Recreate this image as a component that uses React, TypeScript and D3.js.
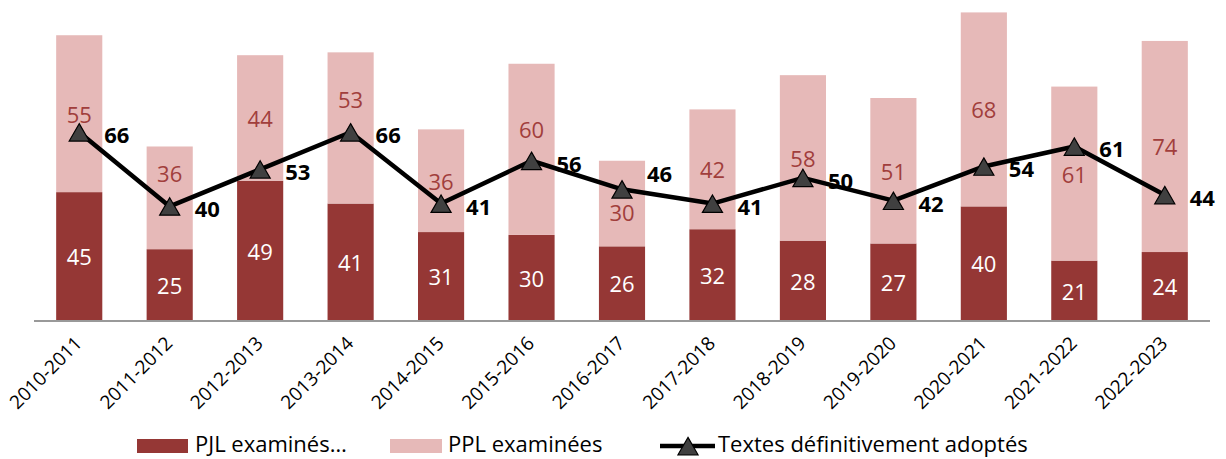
import React from 'react';
import * as d3 from 'd3';

// chart data
const categories = ['2010-2011', '2011-2012', '2012-2013', '2013-2014', '2014-2015', '2015-2016', '2016-2017', '2017-2018', '2018-2019', '2019-2020', '2020-2021', '2021-2022', '2022-2023'];
const pjl = [45, 25, 49, 41, 31, 30, 26, 32, 28, 27, 40, 21, 24];
const ppl = [55, 36, 44, 53, 36, 60, 30, 42, 58, 51, 68, 61, 74];
const adoptes = [66, 40, 53, 66, 41, 56, 46, 41, 50, 42, 54, 61, 44];
const legendLabels = ['PJL examinés…', 'PPL examinées', 'Textes définitivement adoptés'];

const W = 1226;
const H = 459;
const FONT = '"Open Sans", sans-serif';
const DARK = '#953735';
const PINK = '#e6b9b8';

// labels that were moved by hand in the original so they don't sit under the line
const pplNudge: Record<number, number> = { 1: -25, 3: -29, 5: -20, 6: 8 };
const lineNudge: Record<number, number> = { 6: -18 };

function App() {
  const x = d3.scaleBand().domain(categories).range([34, 1210]).paddingInner(0.49).paddingOuter(0.245);
  const y = d3.scaleLinear().domain([0, 112]).range([320.5, 1]);

  const rows = categories.map((c, i) => ({ cat: c, pjl: pjl[i], ppl: ppl[i], adopte: adoptes[i] }));
  const stack = d3.stack<any>().keys(['pjl', 'ppl'])(rows);

  const cx = (c: string) => (x(c) as number) + x.bandwidth() / 2;
  const line = d3.line<any>().x(d => cx(d.cat)).y(d => y(d.adopte));
  const tri = d3.symbol(d3.symbolTriangle, 175)() as string;

  return (
    <svg width={W} height={H} style={{ position: 'absolute', left: 0, top: 0, background: '#fff' }} fontFamily={FONT}>
      {stack.map((layer, li) => (
        <g key={layer.key}>
          {layer.map((seg, i) => (
            <rect key={i} x={x(categories[i])} width={x.bandwidth()} y={y(seg[1])} height={y(seg[0]) - y(seg[1])} fill={li === 0 ? DARK : PINK} />
          ))}
        </g>
      ))}

      {/* axis line */}
      <line x1={34} x2={1210} y1={y(0) + 0.5} y2={y(0) + 0.5} stroke="#999" strokeWidth={2} />

      {/* segment labels */}
      {stack.map((layer, li) =>
        layer.map((seg, i) => (
          <text key={layer.key + i} x={cx(categories[i])} y={(y(seg[0]) + y(seg[1])) / 2 + (li === 1 ? pplNudge[i] || 0 : 0)} textAnchor="middle" dominantBaseline="central" fontSize={22} fill={li === 0 ? '#fff' : '#a13e3c'}>
            {li === 0 ? pjl[i] : ppl[i]}
          </text>
        ))
      )}

      {/* line series */}
      <path d={line(rows) as string} fill="none" stroke="#000" strokeWidth={4.5} strokeLinejoin="round" />
      {rows.map((r, i) => (
        <path key={i} d={tri} transform={`translate(${cx(r.cat)},${y(r.adopte) + 3})`} fill="#404040" stroke="#000" strokeWidth={1.2} />
      ))}
      {rows.map((r, i) => (
        <text key={i} x={cx(r.cat) + 25} y={y(r.adopte) + 2 + (lineNudge[i] || 0)} dominantBaseline="central" fontSize={22} fontWeight="bold" fill="#000">
          {r.adopte}
        </text>
      ))}

      {/* x tick labels */}
      {categories.map(c => (
        <text key={c} transform={`translate(${cx(c) + 4},${y(0) + 24}) rotate(-45)`} textAnchor="end" fontSize={19} fill="#000">
          {c}
        </text>
      ))}

      {/* legend */}
      <g fontSize={22} fill="#000">
        <rect x={137} y={439} width={51} height={14} fill={DARK} />
        <text x={195} y={452}>{legendLabels[0]}</text>
        <rect x={390} y={439} width={52} height={14} fill={PINK} />
        <text x={448} y={452}>{legendLabels[1]}</text>
        <line x1={660} x2={715} y1={446} y2={446} stroke="#000" strokeWidth={4.5} />
        <path d={tri} transform="translate(688,449)" fill="#404040" stroke="#000" strokeWidth={1.2} />
        <text x={718} y={452}>{legendLabels[2]}</text>
      </g>
    </svg>
  );
}

export default App;
